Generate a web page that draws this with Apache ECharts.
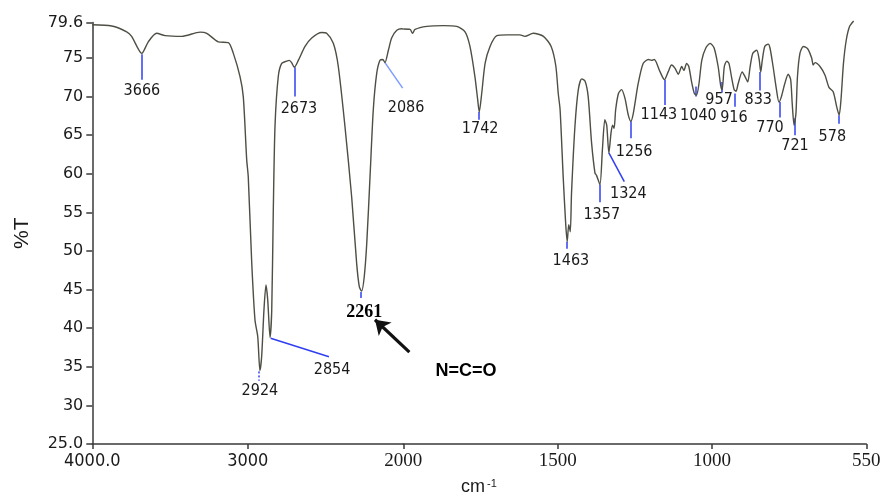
<!DOCTYPE html>
<html><head><meta charset="utf-8">
<script src="https://cdn.jsdelivr.net/npm/echarts@6/dist/echarts.min.js"></script>
<style>html,body{margin:0;padding:0;background:#fff}#c{width:888px;height:496px}</style>
</head><body><div id="c"></div>
<script>
// ---- spectrum, 4000–2000 cm-1 (compressed scale) ----
const wnHigh = [4000,3875,3779,3747,3682,3640,3586,3532,3425,3307,3264,3190,3125,3093,3050,3029,3007,2997,2975,2954,2936,2922,2911,2896,2883,2872,2857,2846,2836,2825,2804,2782,2750,2733,2718,2701,2675,2632,2589,2525,2493,2450,2418,2375,2332,2300,2283,2268,2251,2235,2214,2193,2171,2150,2132,2118,2096,2075,2042,2010,2000];
const tHigh  = [79.3,79.15,78.4,77.8,75.6,77.1,78.2,77.9,77.8,78.35,78.2,77.1,77.0,75.6,72.6,70.0,61.8,59.6,48.6,41.1,38.9,34.5,36.3,42.4,45.6,43.7,38.8,42.4,55.3,66.2,72.6,74.3,74.6,74.7,74.4,73.8,74.7,76.5,77.6,78.3,78.2,76.9,73.9,66.1,57.0,48.4,45.4,44.8,46.7,51.0,59.6,68.3,73.0,74.7,74.8,74.4,76.0,77.6,78.6,78.8,78.75];
// ---- spectrum, 2000–550 cm-1 ----
const wnLow = [2000,1978,1970,1962,1924,1870,1827,1800,1784,1768,1759,1754,1746,1735,1719,1697,1665,1622,1606,1579,1546,1521,1506,1498,1492,1482,1474,1469,1464,1459,1455,1444,1433,1422,1411,1401,1390,1379,1374,1363,1355,1347,1341,1334,1327,1322,1317,1312,1303,1293,1282,1271,1263,1255,1239,1223,1206,1196,1187,1168,1154,1142,1131,1120,1109,1098,1091,1082,1075,1066,1057,1050,1042,1033,1020,1006,993,980,972,967,960,952,945,936,928,922,915,902,893,884,877,868,855,847,842,837,829,818,812,802,791,783,775,764,753,745,740,734,728,723,715,704,690,677,672,666,650,634,621,607,596,588,582,574,565,554,541];
const tLow  = [78.75,78.7,78.2,78.7,79.1,79.2,79.1,78.4,76.5,72.6,69.6,68.0,70.4,74.3,76.5,77.9,78.0,78.0,77.8,78.2,77.8,76.5,74.0,70.4,68.3,59.6,53.6,51.2,53.4,52.5,57.5,66.1,70.9,72.3,72.0,70.0,64.0,60.1,59.8,58.6,63.1,67.0,66.3,62.7,65.3,66.3,65.9,68.3,70.4,70.9,69.8,67.6,66.8,67.8,71.7,74.3,74.8,74.7,74.8,73.2,72.2,73.2,74.1,73.7,72.9,73.9,73.4,74.3,73.9,71.9,70.4,70.2,71.7,74.7,76.3,76.9,76.3,73.9,71.5,70.9,73.9,74.6,74.3,72.4,70.9,70.7,71.7,73.2,72.6,71.9,73.7,75.6,76.0,74.8,73.2,74.7,76.5,76.8,76.3,73.9,70.9,69.3,70.0,71.7,72.9,72.2,69.1,66.3,67.8,72.6,75.6,76.5,76.2,75.0,74.1,74.4,73.9,72.8,71.2,70.6,68.7,67.6,69.6,74.3,77.3,79.1,79.8];

// ---- axis tick labels ----
const xTicksHigh = [4000, 3000];
const xTickTextHigh = ['4000.0', '3000'];
const xTicksLow = [2000, 1500, 1000, 500];
const xTickTextLow = ['2000', '1500', '1000', '550'];

// ---- peak annotations: text, leader line (from, to), label anchor ----
const annHigh = [
  {text:'3666', from:[3680,75.5], to:[3680,72.2], at:[3681,70.7]},
  {text:'2924', from:[2927,34.4], to:[2927,33.2], at:[2922,31.9], dashed:true},
  {text:'2854', from:[2853,38.7], to:[2478,36.3], at:[2458,34.6]},
  {text:'2673', from:[2701,73.8], to:[2701,70.0], at:[2671,68.4]},
  {text:'2261', from:[2272,44.7], to:[2272,43.9], at:[2251,42.1], bold:true},
  {text:'2086', from:[2118,74.4], to:[2004,71.1], at:null, light:true}
];
const annLow = [
  {text:'2086', at:[1991,68.6]},
  {text:'1742', from:[1754,68.0], to:[1754,67.0], at:[1751,65.8]},
  {text:'1463', from:[1469,51.2], to:[1469,50.3], at:[1457,48.7]},
  {text:'1357', from:[1363,58.6], to:[1363,56.3], at:[1357,54.7]},
  {text:'1324', from:[1334,62.7], to:[1284,59.0], at:[1271,57.4]},
  {text:'1256', from:[1263,66.8], to:[1263,64.6], at:[1252,62.9]},
  {text:'1143', from:[1154,72.2], to:[1154,68.9], at:[1172,67.7]},
  {text:'1040', from:[1052,71.3], to:[1052,70.0], at:[1044,67.5]},
  {text:'957',  from:[969,71.9],  to:[969,70.5],  at:[977,69.6]},
  {text:'916',  from:[925,70.4],  to:[925,68.7],  at:[929,67.3]},
  {text:'833',  from:[845,73.2],  to:[845,70.8],  at:[850,69.6]},
  {text:'770',  from:[782,69.3],  to:[782,67.3],  at:[812,66.0]},
  {text:'721',  from:[733,67.2],  to:[733,65.0],  at:[731,63.6]},
  {text:'578',  from:[589,67.6],  to:[589,66.5],  at:[610,64.8]}
];
const groupLabel = {text:'N=C=O', at:[1797,34.5]};
const arrowHigh = {from:[1961,36.9], to:[2182,41.1]};

const SPEC = '#4e4e44', BLUE = '#2f3ff0', TXT = '#1a1a1a';
const peakFont = {fontFamily:'DejaVu Sans Condensed', fontSize:16, color:TXT, opacity:1};

function lineData(w, t){ return w.map((v,i)=>[v, t[i]]); }
function leaders(list){
  return list.filter(a=>a.from).map(a=>({
    coords:[a.from, a.to],
    lineStyle:{color: a.light ? '#7f9cff' : BLUE, width: 1.5, opacity:1, type: a.dashed ? [2,2] : 'solid'}
  }));
}
function labels(list){
  return list.filter(a=>a.at).map(a=>{
    const d = {name:a.text, value:a.at};
    if (a.bold) d.label = {fontFamily:'Liberation Serif', fontWeight:'bold', fontSize:18, color:'#000'};
    return d;
  });
}

const chart = echarts.init(document.getElementById('c'), null, {renderer:'canvas'});
const axisLineStyle = {color:'#3a3a3a', width:1.5};
chart.setOption({
  animation:false,
  backgroundColor:'#fff',
  grid:[
    {left:92.3, top:22.5, width:311, height:421.5, outerBoundsMode:'none'},
    {left:403.3, top:22.5, width:463, height:421.5, outerBoundsMode:'none'}
  ],
  xAxis:[
    {gridIndex:0, type:'value', inverse:true, min:2000, max:4000, interval:1000,
     axisLine:{lineStyle:axisLineStyle}, axisTick:{length:5, lineStyle:axisLineStyle},
     splitLine:{show:false},
     axisLabel:{margin:8, fontFamily:'DejaVu Sans Condensed', fontSize:18, color:TXT,
       formatter:v=>{const i=xTicksHigh.indexOf(v); return i<0?'':xTickTextHigh[i];}}},
    {gridIndex:1, type:'value', inverse:true, min:500, max:2000, interval:500,
     axisLine:{lineStyle:axisLineStyle}, axisTick:{length:5, lineStyle:axisLineStyle},
     splitLine:{show:false},
     axisLabel:{margin:8, fontFamily:'Liberation Serif', fontSize:19, color:TXT,
       formatter:v=>{const i=xTicksLow.indexOf(v); return i<0?'':xTickTextLow[i];}}}
  ],
  yAxis:[
    {gridIndex:0, type:'value', min:25, max:79.6, interval:5,
     name:'%T', nameLocation:'middle', nameGap:60, nameRotate:90,
     nameTextStyle:{fontFamily:'Liberation Sans', fontSize:21, color:TXT},
     axisLine:{show:true, lineStyle:axisLineStyle}, axisTick:{show:true, length:6, lineStyle:axisLineStyle},
     splitLine:{show:false},
     axisLabel:{margin:9, fontFamily:'DejaVu Sans', fontSize:16, color:TXT,
       formatter:v=> v===25 ? '25.0' : String(v)}},
    {gridIndex:1, type:'value', min:25, max:79.6, show:false, splitLine:{show:false}}
  ],
  graphic:[
    {type:'text', left:461, top:478, style:{text:'cm', fontFamily:'Liberation Sans', fontSize:18, fill:TXT}},
    {type:'text', left:487, top:478, style:{text:'-1', fontFamily:'Liberation Sans', fontSize:11, fill:TXT}}
  ],
  series:[
    {type:'line', xAxisIndex:0, yAxisIndex:0, data:lineData(wnHigh,tHigh), showSymbol:false, smooth:0.25, clip:false,
     lineStyle:{color:SPEC, width:1.4}},
    {type:'line', xAxisIndex:1, yAxisIndex:1, data:lineData(wnLow,tLow), showSymbol:false, smooth:0.25, clip:false,
     lineStyle:{color:SPEC, width:1.4}},
    {type:'lines', coordinateSystem:'cartesian2d', xAxisIndex:0, yAxisIndex:0, clip:false, data:leaders(annHigh)},
    {type:'lines', coordinateSystem:'cartesian2d', xAxisIndex:1, yAxisIndex:1, clip:false, data:leaders(annLow)},
    {type:'lines', coordinateSystem:'cartesian2d', xAxisIndex:0, yAxisIndex:0, clip:false,
     symbol:['none','arrow'], symbolSize:[11,14],
     lineStyle:{color:'#111', width:3.2, opacity:1},
     data:[{coords:[arrowHigh.from, arrowHigh.to]}]},
    {type:'scatter', xAxisIndex:0, yAxisIndex:0, clip:false, symbolSize:0, itemStyle:{opacity:1},
     label:Object.assign({show:true, position:'inside', formatter:p=>p.name}, peakFont),
     data:labels(annHigh)},
    {type:'scatter', xAxisIndex:1, yAxisIndex:1, clip:false, symbolSize:0, itemStyle:{opacity:1},
     label:Object.assign({show:true, position:'inside', formatter:p=>p.name}, peakFont),
     data:labels(annLow).concat([{name:groupLabel.text, value:groupLabel.at,
       label:{fontFamily:'Liberation Sans', fontWeight:'bold', fontSize:18, color:'#000'}}])}
  ]
});
</script></body></html>
